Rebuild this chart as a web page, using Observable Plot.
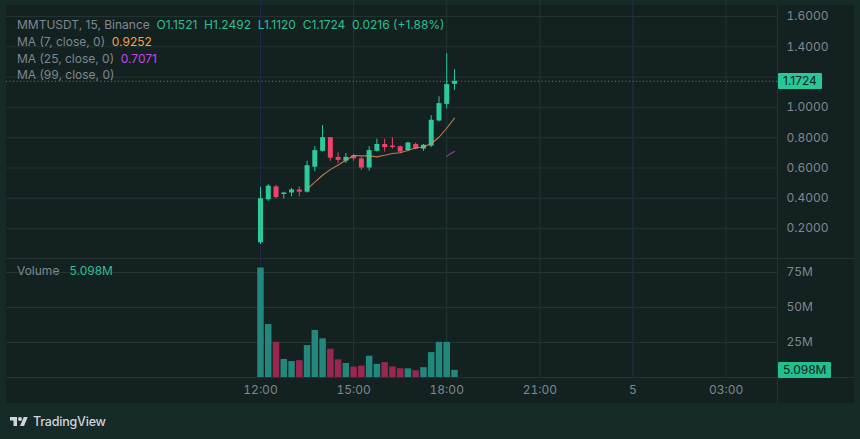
<!DOCTYPE html>
<html><head><meta charset="utf-8">
<script src="https://cdn.jsdelivr.net/npm/d3@7"></script>
<script src="https://cdn.jsdelivr.net/npm/@observablehq/plot@0.6"></script>
<style>
html,body{margin:0;padding:0;background:#162b27;}
#wrap{position:relative;width:860px;height:439px;background:#162b27;overflow:hidden;font-family:Inter,"Noto Sans",sans-serif;}
#panel{position:absolute;left:6px;top:5px;width:848px;height:398px;background:#132220;}
.ov{position:absolute;white-space:nowrap;font-size:12px;line-height:16px;color:#7f8690;}
.chart{position:absolute;left:0;}
.sep{position:absolute;background:#243432;}
.box{position:absolute;left:778px;height:16px;line-height:16px;font-size:12px;color:#0d1b18;padding:0 5px;border-radius:1px;}
</style></head>
<body>
<div id="wrap"><div id="panel"></div></div>
<script>
// ---------- data ----------
const times = ["12:00","12:15","12:30","12:45","13:00","13:15","13:30","13:45","14:00","14:15","14:30","14:45","15:00","15:15","15:30","15:45","16:00","16:15","16:30","16:45","17:00","17:15","17:30","17:45","18:00","18:15"];
const opens  = [0.106,0.390,0.475,0.425,0.435,0.455,0.440,0.605,0.710,0.800,0.670,0.645,0.680,0.660,0.600,0.710,0.755,0.745,0.740,0.715,0.755,0.725,0.745,0.910,1.020,1.1521];
const highs  = [0.473,0.490,0.485,0.440,0.465,0.475,0.645,0.740,0.880,0.800,0.700,0.695,0.690,0.670,0.740,0.790,0.790,0.800,0.745,0.770,0.765,0.755,0.945,1.070,1.355,1.2492];
const lows   = [0.095,0.380,0.395,0.395,0.410,0.410,0.435,0.575,0.705,0.645,0.630,0.630,0.645,0.585,0.580,0.705,0.705,0.725,0.695,0.710,0.720,0.710,0.735,0.905,0.990,1.1120];
const closes = [0.397,0.480,0.405,0.435,0.455,0.440,0.615,0.715,0.800,0.665,0.650,0.670,0.660,0.600,0.715,0.755,0.735,0.735,0.705,0.765,0.725,0.750,0.915,1.025,1.1508,1.1724];
const volumesM = [78.2,37.9,25.2,12.9,11.4,12.0,22.8,33.6,27.6,20.2,12.6,10.0,7.4,8.1,15.2,9.4,10.6,7.6,6.3,6.2,4.8,7.0,17.8,25.1,25.1,5.098];

const priceGridTicks = [0.2,0.4,0.6,0.8,1.0,1.2,1.4,1.6];
const priceLabelTicks = [0.2,0.4,0.6,0.8,1.0,1.4,1.6];
const volumeTicks = [25e6,50e6,75e6];
const xTickTimes = ["2025-11-04T12:00:00Z","2025-11-04T15:00:00Z","2025-11-04T18:00:00Z","2025-11-04T21:00:00Z","2025-11-05T00:00:00Z","2025-11-05T03:00:00Z"];
const xTickLabels = ["12:00","15:00","18:00","21:00","5","03:00"];
const sessionTimes = ["2025-11-04T12:00:00Z","2025-11-05T00:00:00Z"];
const xDomain = ["2025-11-04T03:49:00Z","2025-11-05T04:39:24Z"];
const priceDomain = [0.0026,1.7056];
const volumeDomain = [0,85e6];

const headerText = "MMTUSDT, 15, Binance";
const ohlcText = ["O1.1521","H1.2492","L1.1120","C1.1724","0.0216 (+1.88%)"];
const maLabels = ["MA (7, close, 0)","MA (25, close, 0)","MA (99, close, 0)"];
const maValues = ["0.9252","0.7071",""];
const volumeLabel = "Volume";
const volumeValue = "5.098M";
const lastPriceText = "1.1724";

// ---------- styles ----------
const UP = "#2cc99a", DOWN = "#ef426c";
const VUP = "#23877d", VDOWN = "#9a2751";
const GRID = "#223533", SESSION = "#1d2a4a";
const MA7C = "#e0955c", MA25C = "#b63fd6";

const candles = times.map((t,i)=>({
  time: new Date(`2025-11-04T${t}:00Z`),
  open: opens[i], high: highs[i], low: lows[i], close: closes[i],
  volume: volumesM[i]*1e6
}));
const col = d => d.close >= d.open ? UP : DOWN;
const vcol = d => d.close >= d.open ? VUP : VDOWN;
const xTickDates = xTickTimes.map(t=>new Date(t));
const sessionDates = sessionTimes.map(t=>new Date(t));
const xScale = {type:"utc", domain: xDomain.map(t=>new Date(t))};
const baseStyle = {fontFamily:"Inter, 'Noto Sans', sans-serif", fontSize:"12px", color:"#7f8690", background:"transparent", overflow:"visible"};
const lastClose = closes[closes.length-1];

const price = Plot.plot({
  width: 860, height: 258,
  marginLeft: 6, marginRight: 83, marginTop: 0, marginBottom: 0,
  style: baseStyle,
  x: {...xScale, axis: null},
  y: {domain: priceDomain, label: null},
  marks: [
    Plot.gridY(priceGridTicks, {stroke: GRID, strokeOpacity: 1}),
    Plot.gridX(xTickDates, {stroke: GRID, strokeOpacity: 1}),
    Plot.gridX(sessionDates, {stroke: SESSION, strokeOpacity: 1}),
    Plot.ruleY([lastClose], {stroke: "#8fa09d", strokeOpacity: 0.7, strokeDasharray: "1,2.5"}),
    Plot.ruleX(candles, {x: "time", y1: "low", y2: "high", stroke: col, strokeWidth: 1}),
    Plot.ruleX(candles, {x: "time", y1: "open", y2: "close", stroke: col, strokeWidth: 5}),
    Plot.lineY(candles, Plot.windowY({k: 7, anchor: "end", reduce: "mean", strict: true}, {x: "time", y: "close", stroke: MA7C, strokeWidth: 1.1, strokeOpacity: 0.8})),
    Plot.lineY(candles, Plot.windowY({k: 25, anchor: "end", reduce: "mean", strict: true}, {x: "time", y: "close", stroke: MA25C, strokeWidth: 1.1, strokeOpacity: 0.9})),
    Plot.axisY({anchor: "right", ticks: priceLabelTicks, tickSize: 0, tickPadding: 9, label: null, tickFormat: d => d.toFixed(4)})
  ]
});

const volume = Plot.plot({
  width: 860, height: 144,
  marginLeft: 6, marginRight: 83, marginTop: 0, marginBottom: 25,
  style: baseStyle,
  x: {...xScale, label: null},
  y: {domain: volumeDomain, label: null},
  marks: [
    Plot.gridY(volumeTicks, {stroke: GRID, strokeOpacity: 1}),
    Plot.gridX(xTickDates, {stroke: GRID, strokeOpacity: 1}),
    Plot.gridX(sessionDates, {stroke: SESSION, strokeOpacity: 1}),
    Plot.ruleX(candles, {x: "time", y1: 0, y2: "volume", stroke: vcol, strokeWidth: 6.5}),
    Plot.axisY({anchor: "right", ticks: volumeTicks, tickSize: 0, tickPadding: 9, label: null, tickFormat: d => (d/1e6) + "M"}),
    Plot.axisX({ticks: xTickDates, tickSize: 0, tickPadding: 8, label: null, tickFormat: d => xTickLabels[xTickDates.findIndex(t => +t === +d)]})
  ]
});

const wrap = document.getElementById("wrap");
function addSep(l,t,w,h){const s=document.createElement("div");s.className="sep";Object.assign(s.style,{left:l+"px",top:t+"px",width:w+"px",height:h+"px"});wrap.appendChild(s);}
addSep(6,258,848,1);
addSep(6,377,848,1);
addSep(777,5,1,398);

price.classList.add("chart"); price.style.top = "0px";
volume.classList.add("chart"); volume.style.top = "258px";
wrap.appendChild(price);
wrap.appendChild(volume);

function ov(html, left, cy){const d=document.createElement("div");d.className="ov";d.style.left=left+"px";d.style.top=(cy-8)+"px";d.innerHTML=html;wrap.appendChild(d);return d;}
const mint = "#2bbf93";
ov(`${headerText}&nbsp; <span style="color:${mint}">${ohlcText.join("&nbsp; ")}</span>`, 17, 25);
ov(`${maLabels[0]}&nbsp; <span style="color:#f0a04e">${maValues[0]}</span>`, 17, 42);
ov(`${maLabels[1]}&nbsp; <span style="color:#c347e6">${maValues[1]}</span>`, 17, 59);
ov(`${maLabels[2]}`, 17, 75);
ov(`${volumeLabel}&nbsp;&nbsp; <span style="color:${mint}">${volumeValue}</span>`, 17, 271);

const py = price.scale("y").apply(lastClose);
const pb = document.createElement("div"); pb.className="box"; pb.style.background="#27c99a"; pb.style.top=(py-8)+"px"; pb.textContent=lastPriceText; wrap.appendChild(pb);
const vy = 258 + volume.scale("y").apply(volumesM[volumesM.length-1]*1e6);
const vb = document.createElement("div"); vb.className="box"; vb.style.background="#22c08f"; vb.style.top=(vy-8)+"px"; vb.textContent=volumeValue; wrap.appendChild(vb);

const logo = document.createElement("div");
logo.style.cssText="position:absolute;left:10px;top:414px;display:flex;align-items:center;gap:5px;color:#d1d4dc;font-size:12.5px;font-weight:500;line-height:16px;letter-spacing:-0.2px;";
logo.innerHTML = `<svg width="18" height="14" viewBox="0 0 36 28"><path d="M14 22H7V11H0V4h14v18z" fill="#d1d4dc"/><circle cx="20" cy="8" r="4" fill="#d1d4dc"/><path d="M28 22h-8l7.5-18h8z" fill="#d1d4dc"/></svg><span>TradingView</span>`;
wrap.appendChild(logo);
</script>
</body></html>
